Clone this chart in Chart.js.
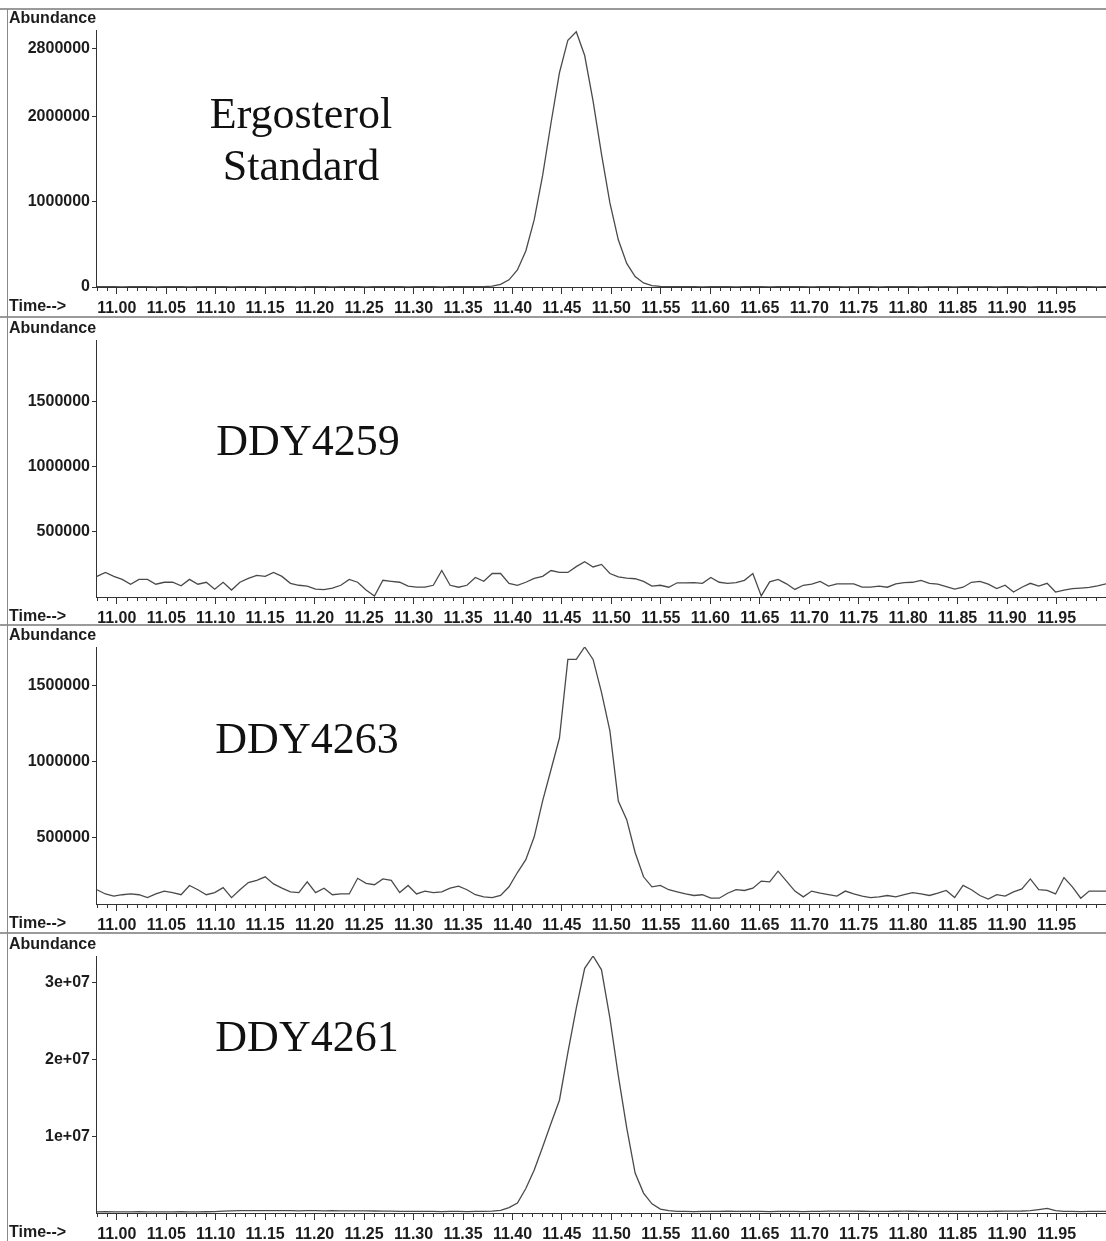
<!DOCTYPE html>
<html><head><meta charset="utf-8">
<script src="https://cdn.jsdelivr.net/npm/chart.js@4.4.0/dist/chart.umd.min.js"></script>
<style>
html,body{margin:0;padding:0;background:#fff;}
body{width:1106px;height:1241px;position:relative;overflow:hidden;}
canvas{position:absolute;left:0;}
.sep{position:absolute;left:0;width:1106px;height:2px;background:#9a9a9a;z-index:5;}
.vline{position:absolute;left:7px;top:9px;width:1px;height:1232px;background:#8a8a8a;z-index:5;}
</style></head><body>
<canvas id="c1" width="1106" height="308" style="top:9px"></canvas>
<canvas id="c2" width="1106" height="308" style="top:319px"></canvas>
<canvas id="c3" width="1106" height="308" style="top:626px"></canvas>
<canvas id="c4" width="1106" height="308" style="top:935px"></canvas>
<div class="sep" style="top:8px"></div>
<div class="sep" style="top:316px"></div>
<div class="sep" style="top:624px"></div>
<div class="sep" style="top:932px"></div>
<div class="vline"></div>
<script>
// ---- data ----
const times = [
10.9800,10.9885,10.9970,11.0055,11.0140,11.0225,11.0310,11.0395,11.0480,11.0565,
11.0650,11.0735,11.0820,11.0905,11.0990,11.1075,11.1160,11.1245,11.1330,11.1415,
11.1500,11.1585,11.1670,11.1755,11.1840,11.1925,11.2010,11.2095,11.2180,11.2265,
11.2350,11.2435,11.2520,11.2605,11.2690,11.2775,11.2860,11.2945,11.3030,11.3115,
11.3200,11.3285,11.3370,11.3455,11.3540,11.3625,11.3710,11.3795,11.3880,11.3965,
11.4050,11.4135,11.4220,11.4305,11.4390,11.4475,11.4560,11.4645,11.4730,11.4815,
11.4900,11.4985,11.5070,11.5155,11.5240,11.5325,11.5410,11.5495,11.5580,11.5665,
11.5750,11.5835,11.5920,11.6005,11.6090,11.6175,11.6260,11.6345,11.6430,11.6515,
11.6600,11.6685,11.6770,11.6855,11.6940,11.7025,11.7110,11.7195,11.7280,11.7365,
11.7450,11.7535,11.7620,11.7705,11.7790,11.7875,11.7960,11.8045,11.8130,11.8215,
11.8300,11.8385,11.8470,11.8555,11.8640,11.8725,11.8810,11.8895,11.8980,11.9065,
11.9150,11.9235,11.9320,11.9405,11.9490,11.9575,11.9660,11.9745,11.9830,11.9915,
12.0000];

const ergosterolStd = [
4000,3000,3500,2500,3000,4000,3000,2500,3500,3000,
3000,2500,3500,4000,3000,3000,2500,3000,3500,3000,
2500,3000,3500,3000,2500,3000,4000,3000,2500,3000,
3500,3000,2500,3000,3000,3500,3000,2500,3000,3500,
3000,2500,3000,3500,3000,3500,5000,11000,31000,84000,
200000,423000,791000,1311000,1930000,2518000,2900000,3000000,2720000,2185000,
1561000,988000,555000,277000,122000,48000,17000,7000,4000,3000,
3500,3000,2500,3000,3500,3000,2500,3000,3500,3000,
2500,3000,3000,3500,3000,2500,3000,3500,3000,2500,
3000,3500,3000,2500,3000,3000,3500,3000,2500,3000,
3500,3000,2500,3000,3000,3500,3000,2500,3000,3500,
3000,2500,3000,3500,3000,2500,3000,3500,3000,2500,
3000];

const ddy4259 = [
158000,188000,158000,135000,98000,135000,135000,98000,113000,113000,
86000,135000,98000,113000,60000,113000,53000,113000,143000,165000,
158000,188000,158000,105000,90000,83000,60000,56000,68000,90000,
135000,113000,53000,8000,128000,120000,113000,83000,75000,75000,
90000,203000,90000,75000,90000,150000,120000,180000,180000,105000,
90000,113000,143000,158000,203000,188000,188000,233000,270000,230000,
250000,180000,155000,145000,140000,120000,83000,90000,75000,109000,
109000,110000,105000,150000,113000,105000,110000,128000,180000,8000,
116000,135000,101000,58000,90000,98000,120000,83000,101000,101000,
101000,75000,75000,83000,75000,101000,110000,113000,128000,105000,
98000,79000,60000,75000,113000,120000,98000,64000,90000,38000,
75000,105000,83000,105000,38000,53000,64000,68000,73000,86000,
101000];

const ddy4263 = [
159000,131000,117000,126000,131000,126000,107000,131000,150000,140000,
126000,187000,159000,126000,140000,173000,107000,159000,206000,220000,
244000,197000,169000,145000,140000,211000,140000,169000,126000,131000,
131000,234000,201000,192000,230000,220000,140000,187000,131000,150000,
140000,145000,169000,183000,159000,126000,112000,107000,121000,178000,
272000,357000,507000,743000,950000,1157000,1674000,1674000,1756000,1674000,
1458000,1204000,743000,620000,404000,244000,178000,187000,159000,145000,
131000,121000,126000,103000,103000,136000,159000,154000,169000,216000,
211000,281000,216000,150000,112000,150000,136000,126000,117000,150000,
131000,117000,107000,112000,121000,112000,126000,140000,131000,121000,
136000,154000,107000,187000,159000,121000,98000,126000,117000,145000,
164000,230000,159000,154000,131000,239000,178000,103000,150000,150000,
150000];

const ddy4261 = [
150000,160000,150000,140000,150000,160000,150000,150000,140000,150000,
160000,150000,150000,160000,170000,250000,280000,300000,300000,310000,
320000,300000,310000,300000,290000,300000,300000,290000,300000,280000,
290000,280000,270000,260000,250000,240000,220000,210000,200000,200000,
200000,190000,200000,200000,190000,200000,210000,240000,350000,700000,
1300000,3200000,5600000,8600000,11700000,14700000,20900000,26700000,31900000,33500000,
31700000,25400000,17900000,11100000,5200000,2600000,1200000,500000,300000,220000,
200000,190000,200000,210000,220000,230000,220000,210000,220000,200000,
190000,200000,210000,200000,190000,200000,210000,240000,250000,250000,
240000,230000,220000,210000,220000,230000,240000,230000,220000,210000,
200000,210000,220000,210000,200000,210000,220000,230000,250000,250000,
260000,300000,450000,600000,300000,220000,200000,190000,200000,210000,
200000];

const xTicks = [11.00,11.05,11.10,11.15,11.20,11.25,11.30,11.35,11.40,11.45,
                11.50,11.55,11.60,11.65,11.70,11.75,11.80,11.85,11.90,11.95];

const yTicks1 = [0,1000000,2000000,2800000];
const yLabels1 = ['0','1000000','2000000','2800000'];
const yTicks2 = [500000,1000000,1500000];
const yLabels2 = ['500000','1000000','1500000'];
const yTicks3 = [500000,1000000,1500000];
const yLabels3 = ['500000','1000000','1500000'];
const yTicks4 = [10000000,20000000,30000000];
const yLabels4 = ['1e+07','2e+07','3e+07'];

const X_MIN = 10.979, X_MAX = 12.0;

// ---- drawing ----
const SANS = '"Liberation Sans", Arial, Helvetica, sans-serif';
const SERIF = '"Liberation Serif", "Times New Roman", serif';
const INK = '#1c1c1c';

const decor = {
  id: 'decor',
  afterDraw(chart, args, opts) {
    const {ctx, chartArea: a, scales: {x}} = chart;
    ctx.save();
    ctx.fillStyle = INK;
    ctx.font = 'bold 16px ' + SANS;
    ctx.textAlign = 'left';
    ctx.textBaseline = 'middle';
    ctx.fillText('Abundance', 9, opts.abY);
    ctx.textBaseline = 'top';
    ctx.fillText('Time-->', 9, a.bottom + 12);
    ctx.strokeStyle = '#333';
    ctx.lineWidth = 1;
    ctx.beginPath();
    for (let k = 1098; k < 1200; k++) {
      if (k % 5 === 0) continue;
      const px = Math.round(x.getPixelForValue(k / 100)) + 0.5;
      ctx.moveTo(px, a.bottom);
      ctx.lineTo(px, a.bottom + 4);
    }
    ctx.stroke();
    ctx.font = '44px ' + SERIF;
    ctx.textAlign = 'center';
    ctx.textBaseline = 'alphabetic';
    ctx.fillStyle = '#111';
    opts.lines.forEach(l => ctx.fillText(l.text, l.x, l.y));
    ctx.restore();
  }
};

function makeChart(id, values, yMin, yMax, yT, yL, lines) {
  const pts = times.map((t, i) => ({x: t, y: values[i]}));
  new Chart(document.getElementById(id), {
    type: 'line',
    data: {datasets: [{data: pts, borderColor: '#4a4a4a', borderWidth: 1.3,
      pointRadius: 0, tension: 0, fill: false}]},
    options: {
      responsive: false, animation: false, events: [],
      layout: {padding: {top: 21, left: 0, right: 0, bottom: 0}},
      plugins: {legend: {display: false}, tooltip: {enabled: false},
        decor: {abY: 10, lines: lines}},
      scales: {
        x: {type: 'linear', min: X_MIN, max: X_MAX,
          afterBuildTicks: s => { s.ticks = xTicks.map(v => ({value: v})); },
          afterFit: s => { s.height = 30; },
          ticks: {callback: v => v.toFixed(2), autoSkip: false, maxRotation: 0,
            font: {family: SANS, size: 16, weight: 'bold'}, color: INK, padding: 5},
          grid: {drawOnChartArea: false, tickLength: 7, color: '#333', lineWidth: 1},
          border: {color: '#333', width: 1}
        },
        y: {type: 'linear', min: yMin, max: yMax,
          afterBuildTicks: s => { s.ticks = yT.map(v => ({value: v})); },
          afterFit: s => { s.width = 96; },
          ticks: {callback: (v, i) => yL[i], autoSkip: false,
            font: {family: SANS, size: 16, weight: 'bold'}, color: INK, padding: 2},
          grid: {drawOnChartArea: false, tickLength: 4, color: '#333', lineWidth: 1},
          border: {color: '#333', width: 1}
        }
      }
    },
    plugins: [decor]
  });
}

makeChart('c1', ergosterolStd, 0, 3020000, yTicks1, yLabels1,
  [{text: 'Ergosterol', x: 301, y: 119}, {text: 'Standard', x: 301, y: 171}]);
makeChart('c2', ddy4259, 0, 1970000, yTicks2, yLabels2,
  [{text: 'DDY4259', x: 308, y: 136}]);
makeChart('c3', ddy4263, 65000, 1756000, yTicks3, yLabels3,
  [{text: 'DDY4263', x: 307, y: 127}]);
makeChart('c4', ddy4261, 0, 33500000, yTicks4, yLabels4,
  [{text: 'DDY4261', x: 307, y: 116}]);
</script>
</body></html>
